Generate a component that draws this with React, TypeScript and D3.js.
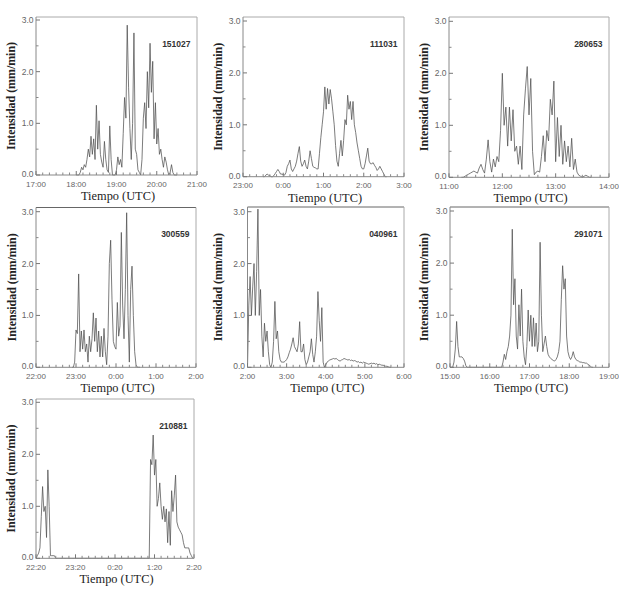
import React from "react";
import * as d3 from "d3";

// ---------- DATA ----------
const ids = ["151027", "111031", "280653", "300559", "040961", "291071", "210881"];

const p1Ticks = ["17:00", "18:00", "19:00", "20:00", "21:00"];
const p2Ticks = ["23:00", "0:00", "1:00", "2:00", "3:00"];
const p3Ticks = ["11:00", "12:00", "13:00", "14:00"];
const p4Ticks = ["22:00", "23:00", "0:00", "1:00", "2:00"];
const p5Ticks = ["2:00", "3:00", "4:00", "5:00", "6:00"];
const p6Ticks = ["15:00", "16:00", "17:00", "18:00", "19:00"];
const p7Ticks = ["22:20", "23:20", "0:20", "1:20", "2:20"];

// minutes after the first tick of each panel; one value every 2 minutes
const p1Start = 60;
const p1Values = [0, 0, 0, 0.05, 0.15, 0.1, 0.2, 0.15, 0.3, 0.5, 0.35, 0.75, 0.4, 0.7, 0.3, 1.35, 0.5, 1.05, 0.4, 0.25, 0.15, 0.65, 0.3, 0.1, 0.05, 0.95, 0.3, 0, 0, 0, 0.1, 0.35, 0.2, 0.3, 0.15, 0.8, 1.5, 1.1, 2.9, 1.7, 0.9, 0.3, 1.0, 2.75, 0.5, 0.4, 0.1, 0.05, 0, 0.3, 1.1, 1.4, 0.9, 2.0, 1.3, 2.55, 1.6, 2.2, 0.7, 1.4, 0.6, 0.9, 0.4, 0.5, 0.3, 0.15, 0.35, 0.25, 0.1, 0, 0.05, 0.2, 0.05, 0, 0, 0];

const p2Start = 30;
const p2Values = [0, 0, 0.03, 0.05, 0.03, 0.02, 0, 0, 0.02, 0.06, 0.1, 0.14, 0.1, 0.05, 0.05, 0.04, 0.03, 0.08, 0.2, 0.25, 0.32, 0.15, 0.1, 0.15, 0.2, 0.3, 0.45, 0.58, 0.3, 0.2, 0.25, 0.32, 0.2, 0.15, 0.3, 0.5, 0.35, 0.2, 0.18, 0.17, 0.15, 0.15, 0.45, 0.75, 1.0, 1.25, 1.73, 1.3, 1.7, 1.4, 1.68, 1.5, 1.25, 1.0, 0.6, 0.3, 0.2, 0.45, 0.7, 0.4, 0.7, 1.1, 1.0, 1.57, 1.3, 1.45, 1.1, 1.45, 1.0, 0.85, 0.65, 0.5, 0.35, 0.2, 0.15, 0.15, 0.25, 0.4, 0.55, 0.3, 0.25, 0.25, 0.27, 0.22, 0.18, 0.12, 0.15, 0.2, 0.15, 0.1, 0.05, 0, 0];

const p3Start = 14;
const p3Values = [0, 0, 0.02, 0.04, 0.06, 0.08, 0.1, 0.12, 0.1, 0.08, 0.18, 0.25, 0.15, 0.08, 0.35, 0.72, 0.3, 0.1, 0.35, 0.2, 0.4, 0.3, 0.9, 2.0, 1.0, 1.35, 0.6, 1.35, 0.7, 1.3, 0.5, 0.6, 0.25, 0.6, 0.15, 1.2, 1.7, 2.13, 1.2, 1.9, 0.5, 0.05, 0.1, 0.12, 0.1, 0.4, 0.8, 0.3, 0.9, 0.7, 1.5, 1.2, 1.85, 0.3, 1.15, 0.4, 1.0, 0.25, 0.7, 0.3, 0.6, 0.2, 0.75, 0.15, 0.35, 0.1, 0.04, 0.02, 0, 0.02, 0.04, 0.02, 0, 0];

const p4Start = 54;
const p4Values = [0, 0, 0.1, 0.72, 0.65, 1.8, 0.3, 0.7, 0.35, 0.72, 0.3, 0.45, 0.1, 0.6, 0.3, 0.55, 1.05, 0.5, 0.95, 0.3, 0.7, 0.2, 0.6, 0.2, 0.75, 0.3, 0.05, 0.6, 2.0, 2.45, 1.3, 0.5, 0.4, 0.35, 1.25, 0.6, 0.8, 2.6, 1.2, 0.55, 1.5, 2.98, 1.0, 0.1, 1.5, 1.95, 1.0, 0.3, 0.05, 0, 0, 0];

const p5Start = 0;
const p5Values = [0, 1.2, 1.75, 1.0, 1.55, 2.0, 1.0, 1.85, 3.05, 1.0, 1.5, 0.6, 0.2, 0.85, 0.5, 0.7, 0.3, 0.05, 0, 0.1, 0.5, 1.27, 0.55, 0.7, 0.3, 0.15, 0.1, 0.1, 0.1, 0.12, 0.15, 0.2, 0.28, 0.35, 0.45, 0.57, 0.4, 0.35, 0.3, 0.45, 0.88, 0.3, 0.3, 0.45, 0.15, 0.05, 0.1, 0.2, 0.3, 0.55, 0.25, 0.1, 0.3, 0.6, 1.46, 0.9, 0.5, 1.15, 0.1, 0, 0.05, 0.1, 0.12, 0.14, 0.15, 0.16, 0.17, 0.16, 0.17, 0.15, 0.13, 0.12, 0.14, 0.15, 0.17, 0.16, 0.15, 0.14, 0.15, 0.13, 0.14, 0.12, 0.13, 0.12, 0.1, 0.11, 0.09, 0.1, 0.08, 0.1, 0.09, 0.08, 0.07, 0.06, 0.07, 0.08, 0.07, 0.08, 0.06, 0.07, 0.05, 0.06, 0.05, 0.04, 0.04, 0.03, 0.02, 0.02, 0.01, 0, 0];

const p6Start = 0;
const p6Values = [0, 0, 0, 0.1, 0.35, 0.88, 0.4, 0.2, 0.2, 0.2, 0.17, 0.12, 0.03, 0, 0, 0, 0, 0, 0, 0, 0, 0, 0, 0, 0, 0, 0, 0, 0, 0, 0, 0, 0, 0, 0, 0, 0, 0, 0, 0, 0.1, 0.25, 0.15, 0.3, 0.4, 0.6, 1.0, 2.65, 1.2, 1.7, 0.6, 0.35, 1.2, 0.6, 1.5, 0.5, 0.2, 0.05, 0.4, 1.1, 0.5, 1.0, 0.4, 0.95, 0.4, 0.85, 0.3, 0.5, 2.4, 1.0, 0.3, 0.45, 0.6, 0.4, 0.25, 0.2, 0.17, 0.15, 0.13, 0.12, 0.15, 0.2, 0.3, 0.5, 1.3, 1.95, 1.5, 1.7, 0.6, 0.3, 0.2, 0.15, 0.2, 0.3, 0.2, 0.15, 0.13, 0.12, 0.1, 0.1, 0.09, 0.09, 0.08, 0.08, 0.06, 0.04, 0.02, 0, 0];

const p7Start = 0;
const p7Values = [0, 0.05, 0.1, 0.2, 0.8, 1.38, 0.9, 1.0, 0.4, 1.7, 1.0, 0.05, 0.05, 0.05, 0.05, 0, 0, 0, 0, 0, 0, 0, 0, 0, 0, 0, 0, 0, 0, 0, 0, 0, 0, 0, 0, 0, 0, 0, 0, 0, 0, 0, 0, 0, 0, 0, 0, 0, 0, 0, 0, 0, 0, 0, 0, 0, 0, 0, 0, 0, 0, 0, 0, 0, 0, 0, 0, 0, 0, 0, 0, 0, 0, 0, 0, 0, 0, 0, 0, 0, 0, 0, 0, 0, 0, 0, 0, 1.9, 1.8, 2.37, 1.6, 1.9, 1.0, 1.15, 1.45, 1.0, 0.75, 1.0, 0.7, 0.95, 0.3, 0.9, 0.25, 1.3, 0.9, 1.2, 1.6, 0.7, 0.6, 0.55, 0.5, 0.45, 0.3, 0.2, 0.2, 0.2, 0.2, 0.1, 0.05, 0];

const stepMinutes = 2;
const yMajor = [0, 1, 2, 3];
const yMinor = [0.5, 1.5, 2.5];

// ---------- LAYOUT ----------
const layouts = [
  { left: 36, right: 197, y0: 175, y3: 20, top: 17, titleX: 10.5, topColor: "#aaa" },
  { left: 243, right: 404, y0: 176.7, y3: 21, top: 17, titleX: 217, topColor: "#aaa" },
  { left: 449, right: 609, y0: 177.3, y3: 21.3, top: 17, titleX: 423, topColor: "#aaa" },
  { left: 36, right: 196, y0: 367.3, y3: 211.7, top: 207.5, titleX: 11, topColor: "#666" },
  { left: 247.5, right: 404, y0: 367.3, y3: 211.7, top: 207, titleX: 217.5, topColor: "#666" },
  { left: 450, right: 609, y0: 367.3, y3: 211, top: 207, titleX: 423, topColor: "#666" },
  { left: 36, right: 194, y0: 558.3, y3: 402.3, top: 399, titleX: 10.5, topColor: "#aaa" },
];
const labelDy = 8.8;
const titleDy = 20.5;

const series = [
  { ticks: p1Ticks, start: p1Start, values: p1Values },
  { ticks: p2Ticks, start: p2Start, values: p2Values },
  { ticks: p3Ticks, start: p3Start, values: p3Values },
  { ticks: p4Ticks, start: p4Start, values: p4Values },
  { ticks: p5Ticks, start: p5Start, values: p5Values },
  { ticks: p6Ticks, start: p6Start, values: p6Values },
  { ticks: p7Ticks, start: p7Start, values: p7Values },
];

const SANS = "'Liberation Sans', Arial, sans-serif";
const SERIF = "'Liberation Serif', 'Times New Roman', serif";

function Panel({ idx }: { idx: number }) {
  const L = layouts[idx];
  const s = series[idx];
  const span = (s.ticks.length - 1) * 60;
  const x = d3.scaleLinear().domain([0, span]).range([L.left, L.right]);
  const y = d3.scaleLinear().domain([0, 3]).range([L.y0, L.y3]);
  const pts: [number, number][] = s.values.map((v, i) => [s.start + i * stepMinutes, v]);
  const line = d3
    .line<[number, number]>()
    .x((d) => x(d[0]))
    .y((d) => y(d[1]));
  const minor = d3.range(0, span + 1, 10).filter((m) => m % 60 !== 0);
  const midY = (L.top + L.y0) / 2;
  return (
    <g>
      <path d={line(pts) || ""} fill="none" stroke="#505050" strokeWidth={0.75} />
      {/* frame */}
      <line x1={L.left} x2={L.right} y1={L.top} y2={L.top} stroke={L.topColor} strokeWidth={1} />
      <line x1={L.right} x2={L.right} y1={L.top} y2={L.y0} stroke="#aaa" strokeWidth={1} />
      <line x1={L.left} x2={L.left} y1={L.top} y2={L.y0} stroke="#888" strokeWidth={1} />
      <line x1={L.left} x2={L.right} y1={L.y0} y2={L.y0} stroke="#888" strokeWidth={1} />
      {/* y ticks */}
      {yMajor.map((v) => (
        <g key={"ym" + v}>
          <line x1={L.left} x2={L.left + 4} y1={y(v)} y2={y(v)} stroke="#777" strokeWidth={1} />
          <text x={L.left - 2.5} y={y(v) - (v === 0 ? 1 : 0)} dy="0.35em" textAnchor="end" fontFamily={SANS} fontSize={8.5} fill="#666">
            {v.toFixed(1)}
          </text>
        </g>
      ))}
      {yMinor.map((v) => (
        <line key={"yn" + v} x1={L.left} x2={L.left + 2.5} y1={y(v)} y2={y(v)} stroke="#888" strokeWidth={1} />
      ))}
      {/* x ticks */}
      {s.ticks.map((t, i) => (
        <g key={"xm" + i}>
          <line x1={x(i * 60)} x2={x(i * 60)} y1={L.y0} y2={L.y0 - 4} stroke="#777" strokeWidth={1} />
          <text x={x(i * 60)} y={L.y0 + labelDy} dy="0.35em" textAnchor="middle" fontFamily={SANS} fontSize={8} fill="#666">
            {t}
          </text>
        </g>
      ))}
      {minor.map((m) => (
        <line key={"xn" + m} x1={x(m)} x2={x(m)} y1={L.y0} y2={L.y0 - 2.5} stroke="#888" strokeWidth={1} />
      ))}
      {/* id */}
      <text x={L.right - 6.5} y={L.top + 27} dy="0.35em" textAnchor="end" fontFamily={SANS} fontWeight="bold" fontSize={8.5} fill="#333">
        {ids[idx]}
      </text>
      {/* axis titles */}
      <text
        transform={`translate(${L.titleX},${midY}) rotate(-90)`}
        dy="0.35em"
        textAnchor="middle"
        fontFamily={SERIF}
        fontWeight="bold"
        fontSize={13}
        fill="#222"
        textLength={108}
        lengthAdjust="spacingAndGlyphs"
      >
        Intensidad (mm/min)
      </text>
      <text
        x={(L.left + L.right) / 2 + 1.5}
        y={L.y0 + titleDy}
        dy="0.35em"
        textAnchor="middle"
        fontFamily={SERIF}
        fontSize={13}
        fill="#222"
        textLength={74}
        lengthAdjust="spacingAndGlyphs"
      >
        Tiempo (UTC)
      </text>
    </g>
  );
}

export default function App() {
  return (
    <svg width={619} height={599} style={{ position: "absolute", left: 0, top: 0, background: "#fff" }}>
      <rect x={0} y={0} width={619} height={599} fill="#fff" />
      {layouts.map((_, i) => (
        <Panel key={i} idx={i} />
      ))}
    </svg>
  );
}
